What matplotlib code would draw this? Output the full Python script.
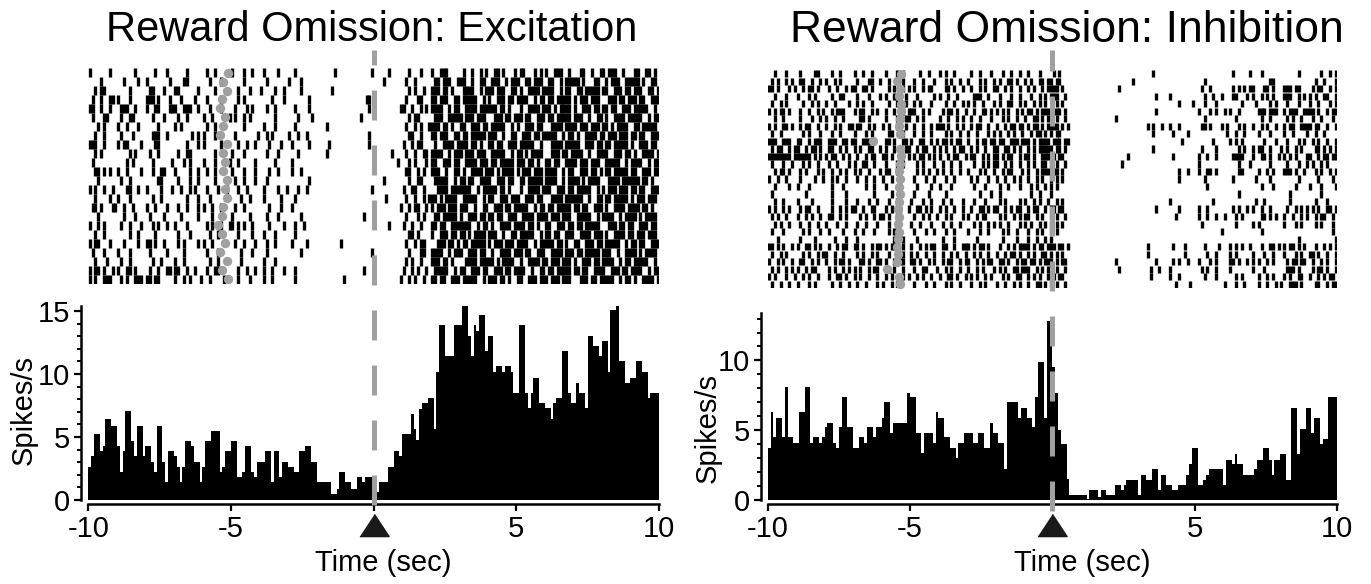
import numpy as np
import matplotlib
matplotlib.use('Agg')
import matplotlib.pyplot as plt
import matplotlib.transforms as mtransforms
from matplotlib.lines import Line2D
from matplotlib.ticker import MultipleLocator

plt.rcParams['font.family'] = ['Liberation Sans', 'DejaVu Sans']
plt.rcParams['lines.scale_dashes'] = False

BIN = 0.1
edges = np.round(np.arange(-10, 10 + BIN / 2, BIN), 2)

# PSTH values (spikes/s), 0.1 s bins from -10 to 10 s
exc_rate = [
    2.6, 3.5, 5.2, 5.2, 3.9, 4.3, 6.4, 6.4, 5.9, 5.9,
    4.3, 2.2, 3.9, 7.1, 7.1, 4.7, 3.5, 5.9, 5.9, 3.5,
    4.3, 4.3, 3.0, 2.2, 5.9, 5.9, 3.0, 1.4, 3.9, 3.9,
    3.5, 2.6, 1.4, 2.6, 4.7, 4.7, 4.3, 3.0, 3.0, 1.4,
    2.6, 4.7, 4.7, 5.5, 5.5, 5.5, 2.2, 2.6, 3.9, 3.9,
    4.7, 4.7, 1.8, 1.8, 2.2, 4.3, 4.3, 2.2, 1.8, 3.0,
    3.0, 3.0, 3.9, 3.9, 1.4, 3.9, 3.9, 1.8, 3.0, 3.0,
    2.6, 2.6, 2.2, 2.2, 3.9, 3.9, 4.3, 4.3, 3.0, 3.0,
    1.4, 1.4, 1.4, 1.4, 1.4, 0.5, 0.5, 0.9, 2.2, 2.2,
    1.4, 1.4, 0.9, 0.9, 1.8, 1.8, 1.4, 1.8, 1.8, 1.8,
    0.6, 0.6, 1.4, 1.4, 1.4, 2.6, 2.6, 3.9, 3.9, 3.5,
    5.2, 5.2, 5.2, 6.8, 5.6, 4.8, 7.2, 7.7, 7.7, 8.1,
    8.1, 5.6, 10.2, 13.9, 13.9, 11.4, 11.4, 11.4, 13.9, 13.9,
    13.9, 15.6, 15.6, 13.0, 11.4, 13.9, 13.4, 14.7, 14.7, 11.8,
    13.0, 13.0, 10.2, 10.6, 10.6, 10.2, 10.6, 10.6, 10.2, 8.5,
    8.5, 13.9, 13.9, 8.5, 7.3, 8.5, 9.7, 9.7, 7.7, 7.7,
    7.3, 7.3, 6.4, 7.7, 8.1, 8.1, 11.8, 11.8, 8.5, 7.7,
    7.7, 9.3, 8.5, 8.5, 7.3, 13.0, 13.0, 12.2, 12.2, 11.4,
    12.6, 12.6, 10.2, 15.1, 15.1, 15.6, 11.0, 11.0, 9.3, 9.3,
    9.7, 9.7, 11.0, 11.0, 10.2, 10.2, 8.1, 8.5, 8.5, 8.5,
]

inh_rate = [
    3.7, 6.3, 4.5, 5.9, 5.9, 4.5, 8.1, 4.5, 4.5, 4.1,
    4.1, 6.3, 6.3, 8.1, 8.1, 4.1, 4.5, 4.5, 4.1, 4.5,
    5.2, 5.5, 5.5, 4.1, 3.7, 5.2, 7.4, 7.4, 5.2, 5.2,
    3.7, 3.7, 4.5, 4.5, 4.1, 5.2, 5.2, 4.5, 5.2, 5.2,
    5.9, 7.0, 7.0, 4.8, 5.5, 5.5, 5.5, 5.5, 5.5, 7.7,
    7.4, 7.4, 4.8, 4.8, 3.4, 4.8, 4.8, 4.8, 4.1, 6.3,
    5.9, 5.9, 4.5, 4.5, 3.7, 3.7, 3.0, 4.1, 4.1, 4.8,
    4.8, 4.8, 4.1, 4.1, 4.8, 4.8, 3.7, 3.7, 5.5, 4.8,
    4.8, 4.1, 4.1, 2.2, 7.0, 7.0, 7.0, 7.0, 5.9, 6.6,
    6.6, 5.9, 5.9, 5.2, 7.4, 9.9, 9.9, 5.9, 12.8, 12.8,
    9.5, 7.7, 5.0, 4.0, 4.0, 1.5, 0.35, 0.35, 0.35, 0.35,
    0.35, 0.35, 0.1, 0.7, 0.7, 0.7, 0.2, 0.7, 0.7, 0.35,
    0.35, 0.35, 1.1, 1.1, 0.7, 1.1, 1.4, 1.4, 1.4, 1.4,
    0.35, 1.8, 1.8, 1.4, 1.4, 2.2, 2.2, 0.7, 1.8, 1.8,
    1.1, 1.1, 0.7, 0.7, 1.1, 1.1, 1.1, 1.8, 2.6, 3.7,
    3.7, 1.1, 1.1, 1.4, 1.8, 2.2, 2.2, 2.2, 2.2, 2.2,
    1.1, 2.9, 2.9, 2.6, 3.3, 2.6, 2.6, 1.8, 1.8, 1.8,
    1.8, 2.2, 2.9, 2.9, 3.7, 3.7, 2.9, 1.8, 2.9, 2.9,
    3.3, 3.3, 1.4, 1.4, 6.6, 6.6, 3.3, 5.1, 5.1, 6.6,
    6.6, 4.8, 5.9, 5.9, 4.0, 4.4, 4.4, 7.4, 7.4, 7.4,
]

# raster rows: one char per 0.1 s bin ('|' = spike), groups of 1 s
exc_raster = [
    "|......|.. ......|... ...|...|.. ....|..... .|..|..... |...|..|.. .|....|... ..|....... ......|... .........| .....|.... ..|...|... |..|||.... .|..|..|.| ..||.|...| .||...|.|. |..|||..|. ..||..|..| |.|||..|.. .||..||.|.",
    "....|..... ..|....|.. |.......|. ...||..... ..|...|... ....|..... ..|....... |...|..... .......... .......... ...|...... .|..|..... .||.|||..| ||..|..||. .|||..|.|| |..||.|||. .||..|.||| ||.|...||. .|.|||..|| |||.|..||.",
    "..|.||.... ....|..... .||...|... ||......|. ....|..... ..|...|... |....|..|. ....|..... .....|.... .......... .......... ..|.|..|.. |||.||.|.. .||||..|.| ||.|||..|| .|..||||.| |||..|.||. .||.|||||. ||..|||.|| .|||..||.|",
    ".|..|..||. |...|..... |||.|...|. ..|....|.. .|....|... ..|.|..... ....|...|. .......|.. .......... .......||. .......... .|...||... ||.|||..|| .|||||..|. |..|||.||. ||||..|.|| .||.|||||. |.|||.|||. ..|||.||.| ||.||..|||",
    "||..|..|.. .|||..|... |..||...|| |..|||..|. ..|...|... .|...|.|.. ..|..|.... ..|....|.. .......... ........|. .........| |..|..|.|. ||||..|.|| ..||||.||| |||.||.|.. .|..||||.| ||.|.||||. |..|||.||. ||.||..||| .|||||..|.",
    ".|...||... .|..||.... ..|...|... .|..|..... |..|.....| .|..|.|... .....|.... ...|....|. .......... .....|.... .......... ..|.||.... .|||..|||| |.|||.|||. ..|||.||.| ||.||..||| .||.|||||. |||..|..|| .|..||||.| ||||..|.||",
    "...|.|.... |..|...|.. ....|..... |.|....... .|..|..... ....|..... .|...|.... ..|....... ...|...... .......... .......... .|..|.|..| |||.||.|.. ||..|||.|| .|||||..|. |..|||.||. ..||||.||| |.|||.|||. ||.|.||||. .||.|||||.",
    "..|..|.... .|...|.... ..|||..|.. ......|.|. |...|..... .|.......| ..|.|..... |..|..|... .......... ........|. .......... ..||..|... ||.|||..|| .||.|||||. |||..|..|| ..|||.||.| ||||..|.|| .|..||||.| |.|||.|||. ||.||..|||",
    "|||..|.... |.||....|. ...||..... ....|...|. |.....|... ..|..|..|. ...|...|.. .|.....|.. ....|..... ........|. .......... |..|.||... .|..||||.| |||.||.|.. ||.||..||| .|||||..|. ..||||.||| ||..|||.|| .||.|||||. |..|||.||.",
    "..|.|..... ....|.|... .|..|..... .|..||.... ....|..... |...|..... ..|...|... ...|...... ...|...... .......... ......|... .|..|..||. ||||..|.|| |.|||.|||. .|||||..|. ||.|.||||. ..|||.||.| |||..|..|| ||..|||.|| .|..||||.|",
    ".|........ ...|.|.... ..|......| ...|.|.... |...|....| ..|.....|. .....|.... .|........ .......... .......... ........|. ..|.|...|. ||..|||.|| ..||||.||| .||.|||||. |||.||.|.. ||.||..||| |.|||.|||. .|||||..|. ||||..|.||",
    "..||.|.|.. |..|....|. ..|..||... |....|..|. .|..|..... |...|...|. ...|..|... .|..|..... .......... .......... .......... .||..|.|.. |||..|..|| .|..||||.| ||.|.||||. |.|||.|||. ||||..|.|| ..|||.||.| .||.|||||. ||..|||.||",
    "...|...... .|..|..... ....||.... .|...|..|. ....|..... .|..|...|. ..|....... .......|.. .......... .......... ...|...... ..|..||... .|||||..|. ||.||..||| |..|||.||. .||.|||||. ||||..|.|| ||.|.||||. ..||||.||| |||.||.|..",
    "|.|..|..|. ...||..|.. |....|...| ..|..|.|.. .|...|..|. ..|..|.... .|....|..| ...|..|... .......... .........| .......... |..||..|.. ..||||.||| ||||..|.|| |||.||.|.. .|..||||.| ||..|||.|| .|||||..|. |.|||.|||. ||.||..|||",
    "..|....|.. |...|..... ..|..|.... ....|...|. ..|....... ...|..|... .|.....|.. ..|....... .......... .......... ....|..... .|..|..|.| ||.|.||||. .|||||..|. ||..|||.|| |..|||.||. ..||||.||| |||..|..|| .||.|||||. |.|||.|||.",
    ".||.|...|| ..|..|.... |..|...|.. .|..|...|. |..|..|... .|..|..... ...|...|.. .|........ .......... .......... .........| ..|.||..|. |.|||.|||. |||..|..|| ..|||.||.| ||||..|.|| .||.|||||. ||.||..||| .|..||||.| |||.||.|..",
    "...|...... ..|...|... .|....|... ..|.....|. ...|...... |.....|... ..|...|... ....|..... .......... ......|... .......... .|...|.|.. .||.|||||. |..|||.||. ||.||..||| ..||||.||| |.|||.|||. .|||||..|. ||||..|.|| ||.|.||||.",
    "|..|.|.... .|..|...|. ..|.|..|.. |...|..... .|.|..|..| |.|.|..|.. ...|....|. ..|..|.... .......... .......... .....|.... |..|..|... ||.||..||| ||||..|.|| .|..||||.| |||.||.|.. ||..|||.|| .||.|||||. ..|||.||.| |..|||.||.",
    "..|..|.... ....|..|.. ...|...... .|...|.... ..|..|.... ..|....|.. .|...|.... ..|....... .......... .......... .......... ..||.|.... |..|||.||. ||.|.||||. |||..|..|| .|||||..|. ||.||..||| ..||||.||| .|..||||.| |.|||.|||.",
    "|.||...|.. ..|....|.. ||.|..|... .|.|....|. |..|...... .|..|...|. ..|..|.... .|....|... ........|. .......... .......... .|..|.||.. ..|||.||.| .||.|||||. |.|||.|||. ||||..|.|| |||.||.|.. ||..|||.|| .|||||..|. ||.||..|||",
    ".|...|.... |...|..... .|.....|.. ...|...... .|...|.... ...|...|.. ..|....... ....|..... .......... .........| .......... ..|...||.. ||||..|.|| |..|||.||. .|..||||.| ||.||..||| ..||||.||| .||.|||||. |||..|..|| ||.|.||||.",
    "..|...|... .|..|..... ..|..|.... |..|...... ..|..|.... ...|...... .|...|.... .......... .......... .......... .......... .|.|..|... |||.||.|.. ..||||.||| ||.|.||||. .|..||||.| |.|||.|||. |..|||.||. ||||..|.|| .|||||..|.",
    "|.||.|..|. |..||.|... .|..|..||. ||..|..|.. .|..||.... ..|..|..|. .|..|...|. ..|....... .......... ......|... .......... |..|.|..|. .|||||..|. ||..|||.|| ..|||.||.| |||..|..|| .||.|||||. ||.||..||| |..|||.||. ||||..|.||",
    "|.|..|||.. .|.|..|||. ||.||..... |..|.|...| ..|....|.. ..|...|... .|..|..... ..|....... .........| .......... .........| ..|.|..|.. ||.||..||| .|||||..|. |||.||.|.. ||..|||.|| |.|||.|||. ..|||.||.| ||||..|.|| .|..||||.|",
]

inh_raster = [
    "..|...|... .|....||.. ..|..|.... |..|..|... .|...|.|.. ...|..|... |.|..|.... .|..|...|. ..|..|..|. .|...|.... |.|....... .......... .......... .....|.... .......... .......... ...|.....| ...|...... ......|... ....|..|.|",
    ".|.|..|.|. .||..|..|. |..|.|.... .|...||..| ..|..|.|.. .|..|...|. ..|.|..|.. |...|.|..| .|..||.|.. |.|..||.|| .||....... .......... ........|. .......... .......... ...|...... .......... ......||.. .......... ..|..|...|",
    "||.|...|.| ..|.||.|.. .|..|..|.| |..||.|... ..|.|..|.| .|..|.||.. ..||.|..|. .|..|.|..| |..|.|..|. .|.|..|.|| ||.|...... .......... ...|...... .......... .......... ..|..|.... ...|.|.|.| |...||.|.. .|||.||... .|.||..|.|",
    "..|...|... |...|.|... ..|..||... .|...|...| .|..||..|. ..|.....|. |..|..|... ..|||..|.. .|...|..|. ..|..|.|.| ||..|..... .......... .......... ......|... .|........ ...|..|..| ...||...|. |..|.|.|.. .|||..|.|. |.|..||..|",
    ".|..|.|... ..|..|.|.. |..|....|. .|.|..|... ..|..|..|. .|.|...|.. ..|..|..|. |.|..|...| .|..||..|. |..|.|.|.. .|.|...... .......... .......... .......... ....|....| ...|...|.. ......|... .|....|.|. ..|...|... |..|...|.|",
    "|.|.||.|.. .|..|..|.| ..|.|||... |.||..|.|. .|..|..|.| ||..|.|... .|.||.|..| ..|..||.|. |.|.|..|.| .||.|.|||. |||.|..... .......... .......... ......|... .......... .|...|.|.. |.|..|.... ..|||.|||. .|.|||..|| ||.|..|.||",
    "..|..|.... .|...|..|. |..|..|... ..||.|.... .|...|..|| ..|.|..... |..|..|.|. .|..|...|. ..|.|..|.. |..||.|.|| .|..|..... .......... ..|....... .......... .......... ...|...... ....|..... ...|..|... ..|.|..|.. .|..|...|.",
    "|.|..||.|. .|.||..|.. |..|.|..|| .||..|.|.. |.|..||.|. .|..|..|.| ||.|..|.|. .|.||..|.. |..|.||.|| .|.||.|.|| ||.|.|.... .......... .......... ...|.|..|. .|..|..... ..||.|...| .|...|.|.. |..|.|..|. .|.||..||| |.||..|..|",
    ".|..|..... ..|.|...|. ..|..|.... |...|.|... ..||...|.. .|..|..|.. ..|.|..|.. |..|...|.| .|..|.|..| ..|.||.|.| .||....... .......... .......... .....|.... ..|....|.. .......... .|..|..|.. ..|...|... .|..|....| ..|..|....",
    "|||..|||.. ||..|.|||. .|||..||.| |..|||.|.. .||.|..||. |..||..|.| .||.|.||.. |..|.||.|| .||..|||.| ||.|.||||. |||.||.... .......... .......... .......... .....|.... ......|... ..|.|.|... ....|...|. ..|...|.|. .|.|..|..|",
    ".|.||..|.| |..|.||.|. .||..|.|.. |.|..||..| .|..|.|.|| ..|.||..|. |.|..|.||. .|.|..|..| |..||.|.|. .|.|.||||| .||.|..... .......... .......... .....|.... .......... ..|....|.. .....|.|.. |.||..|... |.|..|.|.. ..||.|.|.|",
    "||||||||.| |||||.|.|. |.||..|.|. .|..|.||.. ||.|..|..| .|.||.|.|. |..|.||..| .||..|.|.| |.|.||..|. ||.|..|||. |.||...... .......... ......|... .......... ..|....... .|..|..|.. ...||||... |..||.|..| .|.|.|...| |..|.||.||",
    ".|...|..|. ..|.|..|.. .|..|...|. |..||..|.. .|...|.|.. ..|.|...|. .|..|..|.. ..|..|.|.| |..|.|..|. .|.|..||.| .|..|..... .......... ....|..... .......... .......... .|........ .....|...| ......|... ..|...|..| .|..|.|...",
    "..|.||.|.. .|.|...|.| ..|..|.|.. |.|..|...| .||..|.... ..|.|.|..| .|..|..|.. |...|.|..| ..|.||...| .|..|.|||. ||.|...... .......... .......... .......... ....|..|.. .|..||.|.. .....||... ..|..|.|.. .|||.|..|. ..|.|..|.|",
    "|..|..|... .|....|..| ..|.|..|.. .|..|..|.. |..|..|... .|...|..|. ..|..|.... .|.|...|.. |..|..|.|. .|..|.|..| .|.|...... .......... .......... .......... ....|..... ...|...... ...|...... .|....|... ......|... ...|....|.",
    "..|....|.. |...|..... ..|...|... ....|..|.. .|....|... ..|....|.. |...|..... ..|...|... .|..|...|. ..|.|..|.| .|........ .......... .......... .......... .......... ....|..... .......... ...|...|.. .....|.... |...|....|",
    ".|........ ...|...... ..|....|.. .......|.. ...|...... .|....|... ..|....... ....|...|. .|........ ..|..|...| .......... .......... .......... .......... .......... .......... .....|.... .......... ...|...... ....|.....",
    "..|..|.... |....|.... ..|....|.. .|...|..|. ..|..|.... |...|..|.. .|..|...|. ..|...|... .|.|....|. |..|.|..|. .|.|...... .......... .......... .......... .|........ ......|... .......... .|..|..... ...|...... ..|...|...",
    "|.|..|.|.. .|.||..|.. ..|..|.|.| |..|..||.. .|.|..|..| ..||.|.|.. |.|..|..|. .|..||.|.| |..|.|.||. .|.||..|.| |.||...... .......... .......... ......|... ....|..... .|..|..... ...|.|..|. |..|..|... ..|..|.|.| .|.|..||.|",
    ".|.|..|... |..|.|..|. .||..|.|.. ..|.|..|.| |.|..|.... .|..|.|..| ..|.|...|. |..|.||... .|.|..|.|. ||..|.|..| .|..|..... .......... .......... .......... ...|...... .|..|..|.. |...|.|... ...||.|.|. .|..|..|.| ..|.||..|.",
    "..|.|..|.. .|..|..|.. |...|..|.. .|..|...|. ..|..|.... |..|...|.. .|..|..|.. ..|.|..|.| .|..|...|. |.|..|.|.| .|.|...... .......... .......... .......... .......... ..|....... ....|..... |.|....... .|...|.|.. ..|.|...|.",
    ".|...|.... ..|.|...|. .|....|... |..|...|.. ..|.|..... .|...|..|. ..|..|.... |...|..|.. ..|.|..|.. .|..|.|..| .|........ .......... .......... .......... .......... .........| .......... ...|...... .......... ........|.",
    "...|...... .|....|... ...|...|.. .|........ ....|..|.. ..|....... .|...|.... ...|...... ..|....|.. .|..|..|.| .......... .......... .......... .......... .......... .......... .......... .......... ......|... .........|",
    "||.|.|..|. |..||.|.|. .|..|.||.. ||.|..|.|| .|.||..|.. |..|.|.||. .||..|..|| |.|.||.|.. .|..|.|.|| ||.|.||.|| |.||.|.... .......... .......... ...|...... ..|...|... ...|....|. ..|.|.|..| ...|..||.| .|.||.|.|. ..|..|.|.|",
    ".|..|.|... ..|.|..|.| |..|..|... .|.|..|.|. ..|..|.|.. |.|..|..|. .|..|.|..| ..|.|..|.. |..|.||.|. .|.|..||.| .|.|...... .......... .......... ...|...... ......|... ....|..|.. ..|.|..... |...|..|.. .|...|.|.. ||.|..|..|",
    "|..|.|..|. .||..|.|.. |..|.||.|. ..||.|..|| .|..|.||.. ||.|..|.|. .|.||..|.| |..|.|.||. .||.|..|.| |.||.|.||| .|.||..... .......... ..|....... ......|... ..|.|..|.. .|...|.|.. ..||.|..|. |.|..|.|.. ..|.||.||. .|..|.|..|",
    ".|.|..|.|. |..|.||... .|.|..|.|. |.|..|.||. ..|.|..|.. .|..||...| ..|.|..|.. |..|.|...| .|.|..||.| ||..|.|.|. .|..|..... .......... ...|...... ....|..|.. .|........ ..|.|..|.. ..|....... |...|..... ..|||.|... .|.||.|..|",
    "|.|...|..| ..|.|..|.. .|..||.|.. |.|..|..|. .|.|...|.| ..|.|..|.. |..||.|..| .|.|..|.|. ..|.|..||. .|.|.|..|| |.||...... .......... .......... ....|..... .|..|..... ...|...|.. ....|.|... ..|..|.|.. .|.|..||.. |..|.|.||.",
    ".|..|..|.. |...|.|... ..|..|..|. .|..|...|. |..|.|.... .|...|..|. ..|.|..|.. .|..|.|... |..|..|.|. .|..||.|.| .|..|..... .......... .......... .......... ...|....|. .......... |...|..|.. ..|..|..|. |..|||.|.. ..||..|.||",
]

# time of the gray marker (cue) on each trial
exc_cue = [-5.10, -5.27, -5.15, -5.33, -5.39, -5.21, -5.27, -5.39, -5.15, -5.27,
           -5.21, -5.27, -5.15, -5.21, -5.15, -5.27, -5.33, -5.45, -5.33, -5.21,
           -5.39, -5.15, -5.33, -5.10]
inh_cue = [-5.30, -5.47, -5.36, -5.40, -5.33, -5.30, -5.36, -5.40, -5.36, -6.29,
           -5.36, -5.33, -5.36, -5.40, -5.36, -5.40, -5.36, -5.40, -5.43, -5.40,
           -5.43, -5.40, -5.43, -5.47, -5.43, -5.47, -5.82, -5.40, -5.36]


def spike_times(row):
    row = row.replace(' ', '').ljust(200, '.')[:200]
    idx = np.array([i for i, c in enumerate(row) if c == '|'])
    return -10 + (idx + 0.5) * BIN


W, H = 1371, 584
fig = plt.figure(figsize=(W / 100, H / 100), dpi=100)
GRAY = '#a0a0a0'


def fx(px):
    return px / W


def fy(px):
    return 1 - px / H


def panel(x0, x1, r_top, r_bot, h_top, title, title_x, title_size, raster, cue,
          rate, ylim, yticks, ylab_x, ylab_y, xlab_x, dash_bot):
    # raster
    axr = fig.add_axes([fx(x0), fy(r_bot), fx(x1 - x0), (r_bot - r_top) / H])
    n = len(raster)
    axr.eventplot([spike_times(r) for r in raster], lineoffsets=np.arange(n),
                  linelengths=0.95, linewidths=2.4, colors='k')
    axr.scatter(cue, np.arange(n), s=46, color=GRAY, zorder=3, linewidths=0)
    axr.set_xlim(-10, 10)
    axr.set_ylim(n - 0.5, -0.5)
    axr.axis('off')

    # histogram
    hh = 500 - h_top
    axh = fig.add_axes([fx(x0), fy(500), fx(x1 - x0), hh / H])
    axh.stairs(rate, edges, fill=True, color='k', linewidth=0)
    axh.set_xlim(-10, 10)
    axh.set_ylim(*ylim)
    for s in ['top', 'right']:
        axh.spines[s].set_visible(False)
    axh.spines['left'].set_position(('outward', 5))
    axh.spines['bottom'].set_position(('outward', 3))
    axh.spines['bottom'].set_bounds(-10, 10)
    for s in ['left', 'bottom']:
        axh.spines[s].set_linewidth(1.8)
    axh.set_yticks(yticks)
    axh.yaxis.set_minor_locator(MultipleLocator(1))
    axh.set_xticks([-10, -5, 0, 5, 10])
    axh.set_xticklabels(['-10', '-5', '', '5', '10'])
    axh.tick_params(which='major', length=5, width=1.6, labelsize=21, pad=3)
    axh.tick_params(which='minor', length=3, width=1.4)
    axh.set_ylabel('Spikes/s', fontsize=21)
    axh.yaxis.set_label_coords((ylab_x - x0) / (x1 - x0), (500 - ylab_y) / hh)
    axh.set_xlabel('Time (sec)', fontsize=21)
    axh.xaxis.set_label_coords((xlab_x - x0) / (x1 - x0), (500 - 549) / hh)

    # event marker under the x axis
    tri = [(-1, -0.76), (1, -0.76), (0, 0.76)]
    trans = mtransforms.blended_transform_factory(axh.transData, fig.transFigure)
    axh.plot([0], [fy(525)], marker=tri, ms=21, color='#1a1a1a',
             transform=trans, clip_on=False)

    # dashed line at reward time through both plots
    fig.add_artist(Line2D([0, 0], [fy(dash_bot), fy(50)], transform=trans,
                          color=GRAY, lw=3.6, dashes=(21.6, 18)))

    fig.text(fx(title_x), fy(30), title, ha='center', va='center',
             fontsize=title_size)


panel(88.3, 659, 68, 284, 306, 'Reward Omission: Excitation', 372, 30,
      exc_raster, exc_cue, exc_rate, (0, 15.4), [0, 5, 10, 15],
      38, 410, 383, 505)
panel(767.7, 1337, 70, 288, 313, 'Reward Omission: Inhibition', 1067, 32,
      inh_raster, inh_cue, inh_rate, (0, 13.4), [0, 5, 10],
      722, 428, 1082, 511)

fig.savefig('out.png', dpi=100)
